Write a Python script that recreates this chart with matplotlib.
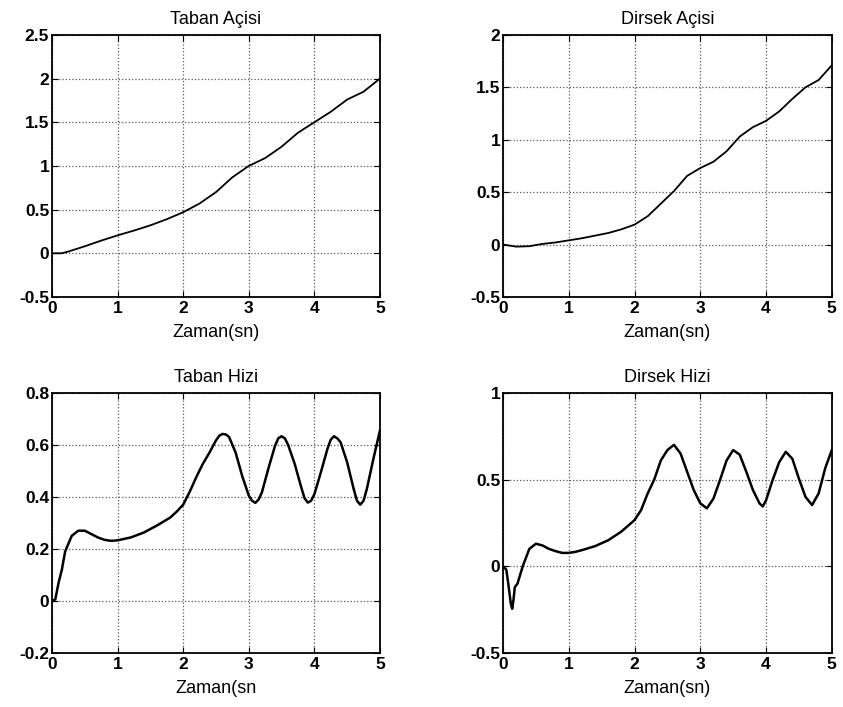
import matplotlib
matplotlib.use("Agg")
import matplotlib.pyplot as plt

plt.rcParams['font.family'] = ['Liberation Sans', 'DejaVu Sans']
plt.rcParams['font.size'] = 12

# Taban Açisi ======================================================#
t_taban_aci = [0, 0.15, 0.25, 0.5, 0.75, 1, 1.25, 1.5, 1.75, 2, 2.25, 2.5, 2.75,
               3, 3.25, 3.5, 3.75, 4, 4.25, 4.5, 4.75, 5]
taban_aci = [0, 0.0, 0.02, 0.08, 0.145, 0.205, 0.26, 0.32, 0.39, 0.47, 0.57, 0.70, 0.87,
             1.0, 1.09, 1.22, 1.38, 1.5, 1.62, 1.76, 1.85, 2.0]

# Dirsek Açisi =====================================================#
t_dirsek_aci = [0, 0.2, 0.4, 0.6, 0.8, 1.0, 1.2, 1.4, 1.6, 1.8, 2.0, 2.2, 2.4, 2.6,
                2.8, 3.0, 3.2, 3.4, 3.6, 3.8, 4.0, 4.2, 4.4, 4.6, 4.8, 5.0]
dirsek_aci = [0, -0.02, -0.016, 0.006, 0.02, 0.04, 0.06, 0.085, 0.11, 0.145, 0.19, 0.27,
              0.39, 0.51, 0.655, 0.73, 0.79, 0.89, 1.03, 1.12, 1.18, 1.27, 1.39, 1.50,
              1.57, 1.71]

# Taban Hizi =======================================================#
t_taban_hiz = [0, 0.05, 0.1, 0.15, 0.2, 0.3, 0.4, 0.5, 0.6, 0.7, 0.8, 0.9, 1.0, 1.2,
               1.4, 1.6, 1.8, 1.9, 2.0, 2.1, 2.2, 2.3, 2.4, 2.5, 2.55, 2.6, 2.65, 2.7,
               2.8, 2.9, 3.0, 3.05, 3.1, 3.15, 3.2, 3.3, 3.4, 3.45, 3.5, 3.55, 3.6,
               3.7, 3.8, 3.85, 3.9, 3.95, 4.0, 4.1, 4.2, 4.25, 4.3, 4.35, 4.4, 4.5,
               4.6, 4.65, 4.7, 4.75, 4.8, 4.9, 5.0]
taban_hiz = [0, 0.006, 0.07, 0.12, 0.19, 0.25, 0.27, 0.27, 0.257, 0.244, 0.235, 0.231,
             0.233, 0.244, 0.263, 0.29, 0.32, 0.343, 0.37, 0.42, 0.476, 0.527, 0.57,
             0.617, 0.635, 0.642, 0.64, 0.63, 0.57, 0.48, 0.405, 0.385, 0.377, 0.39,
             0.417, 0.51, 0.596, 0.625, 0.633, 0.625, 0.60, 0.527, 0.437, 0.395, 0.378,
             0.385, 0.41, 0.495, 0.585, 0.62, 0.633, 0.625, 0.61, 0.533, 0.43, 0.385,
             0.37, 0.385, 0.43, 0.546, 0.655]

# Dirsek Hizi ======================================================#
t_dirsek_hiz = [0, 0.05, 0.08, 0.12, 0.14, 0.16, 0.18, 0.22, 0.3, 0.4, 0.5, 0.6, 0.7,
                0.8, 0.9, 1.0, 1.1, 1.2, 1.4, 1.6, 1.8, 2.0, 2.1, 2.2, 2.3, 2.4, 2.5,
                2.6, 2.7, 2.8, 2.9, 3.0, 3.1, 3.2, 3.3, 3.4, 3.5, 3.6, 3.7, 3.8, 3.9,
                3.95, 4.0, 4.1, 4.2, 4.3, 4.4, 4.5, 4.6, 4.7, 4.8, 4.9, 5.0]
dirsek_hiz = [0, -0.02, -0.1, -0.22, -0.245, -0.19, -0.12, -0.1, 0, 0.1, 0.13, 0.12,
              0.10, 0.087, 0.077, 0.077, 0.083, 0.093, 0.116, 0.15, 0.2, 0.266, 0.324,
              0.42, 0.5, 0.61, 0.67, 0.70, 0.65, 0.545, 0.44, 0.363, 0.334, 0.39, 0.497,
              0.61, 0.67, 0.643, 0.545, 0.44, 0.363, 0.345, 0.38, 0.497, 0.60, 0.66,
              0.62, 0.505, 0.40, 0.353, 0.42, 0.565, 0.67]

x_ticks = [0, 1, 2, 3, 4, 5]
x_labels = ['0', '1', '2', '3', '4', '5']

paneller = [
    ("Taban Açisi", "Zaman(sn)", t_taban_aci, taban_aci,
     [-0.5, 0, 0.5, 1, 1.5, 2, 2.5], ['-0.5', '0', '0.5', '1', '1.5', '2', '2.5'],
     [0.0617, 0.580, 0.389, 0.3706], 1.3),
    ("Dirsek Açisi", "Zaman(sn)", t_dirsek_aci, dirsek_aci,
     [-0.5, 0, 0.5, 1, 1.5, 2], ['-0.5', '0', '0.5', '1', '1.5', '2'],
     [0.5967, 0.580, 0.390, 0.3706], 1.3),
    ("Taban Hizi", "Zaman(sn", t_taban_hiz, taban_hiz,
     [-0.2, 0, 0.2, 0.4, 0.6, 0.8], ['-0.2', '0', '0.2', '0.4', '0.6', '0.8'],
     [0.0617, 0.0764, 0.389, 0.368], 1.8),
    ("Dirsek Hizi", "Zaman(sn)", t_dirsek_hiz, dirsek_hiz,
     [-0.5, 0, 0.5, 1], ['-0.5', '0', '0.5', '1'],
     [0.5967, 0.0764, 0.390, 0.368], 1.8),
]

fig = plt.figure(figsize=(8.43, 7.07), dpi=100)

for baslik, xlab, t, y, yt, ytl, pos, lw in paneller:
    ax = fig.add_axes(pos)
    ax.plot(t, y, color='black', linewidth=lw)
    ax.set_xlim(0, 5)
    ax.set_ylim(yt[0], yt[-1])
    ax.set_xticks(x_ticks)
    ax.set_xticklabels(x_labels, fontweight='bold')
    ax.set_yticks(yt)
    ax.set_yticklabels(ytl, fontweight='bold')
    ax.grid(True, color='0.35', linestyle=':', linewidth=0.9)
    ax.tick_params(direction='in', top=True, right=True, length=4, pad=3, labelsize=12.5)
    ax.tick_params(axis='y', pad=2)
    for s in ax.spines.values():
        s.set_linewidth(1.3)
    ax.set_title(baslik, fontsize=13, pad=8)
    ax.set_xlabel(xlab, fontsize=13, labelpad=6)

fig.savefig("out.png", dpi=100)
